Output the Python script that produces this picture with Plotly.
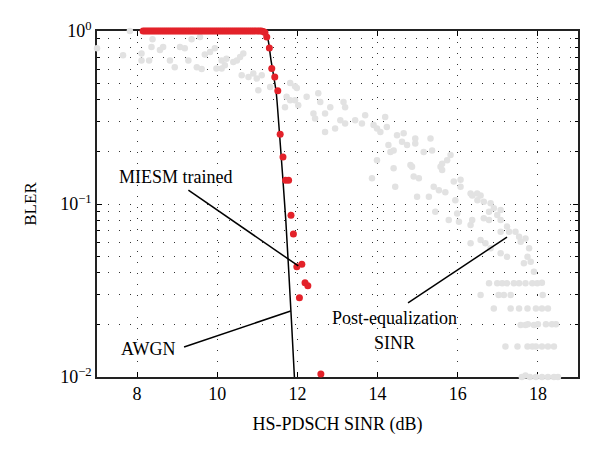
import plotly.graph_objects as go

# ---------------- data ----------------
# Post-equalization SINR cloud (gray)
gray_x = [7.82, 7.0, 7.65, 8.11, 8.36, 8.385, 8.11, 8.3, 8.57, 8.65, 8.82, 8.94, 9.07, 9.19, 9.28,
          9.36, 9.57, 9.49, 9.61, 9.69, 9.82, 9.94, 9.98, 10.11, 10.19, 10.11, 10.23, 10.4, 10.49,
          10.57, 10.65, 10.61, 10.78, 10.9, 10.985, 11.11, 11.025, 11.32, 11.82, 11.94, 11.985,
          11.73, 11.82, 11.94, 11.69, 12.02, 12.23, 12.52, 12.57, 12.4, 12.44, 12.69, 12.82, 13.15,
          13.19, 12.69, 12.94, 13.07, 13.19, 13.44, 13.61, 13.69, 13.9, 13.985,
          14.19, 14.23, 14.07, 14.485, 14.65, 14.61, 14.735, 14.94, 14.94, 15.32, 14.27, 14.32, 14.4,
          13.985, 13.86, 14.4, 14.82, 14.86, 15.15, 15.36, 15.61, 15.735, 15.82, 14.9, 15.03, 15.57,
          15.61, 14.44, 14.985, 15.4, 15.53, 15.69, 15.9, 16.07, 16.07, 16.32, 16.485, 16.57,
          15.28, 15.94, 16.36, 16.49, 16.65, 16.82, 16.9, 17.07, 15.44, 15.775, 15.985, 16.03, 16.32,
          16.36, 16.65, 16.78, 16.78, 16.985, 17.07, 17.07, 17.23, 17.28, 17.44, 17.53, 17.57, 17.69,
          17.78, 17.74, 16.32, 16.57, 16.69, 16.82, 17.07, 17.23,
          16.78, 16.985, 17.11, 17.23, 17.4, 17.53, 17.69, 17.86, 17.985, 18.1,
          16.57, 17.02, 17.15, 17.32, 18.12,
          17.65, 17.82, 17.9,
          16.9, 17.32, 17.53, 17.74, 17.95, 18.1, 18.25,
          17.57, 17.69, 17.9, 17.75, 18.0, 18.2, 18.35, 18.45,
          17.19, 17.49, 17.86, 17.74, 17.95, 18.1, 18.25, 18.4,
          17.6, 17.69, 17.8, 17.95, 18.1, 18.25, 18.4, 18.5]
gray_y = [1.0, 0.794, 0.724, 0.741, 0.809, 0.895, 0.676, 0.676, 0.776, 0.809, 0.676, 0.617, 0.809, 0.794, 0.676,
          0.895, 0.923, 0.617, 0.603, 0.731, 0.757, 0.794, 0.607, 0.607, 0.634, 0.676, 0.692, 0.661, 0.676,
          0.708, 0.741, 0.555, 0.542, 0.568, 0.531, 0.555, 0.455, 0.475, 0.501, 0.479, 0.468,
          0.417, 0.398, 0.398, 0.363, 0.372, 0.417, 0.437, 0.389, 0.333, 0.312, 0.333, 0.363, 0.389,
          0.363, 0.261, 0.273, 0.305, 0.292, 0.305, 0.292, 0.326, 0.286, 0.273,
          0.318, 0.279, 0.261, 0.250, 0.256, 0.229, 0.219, 0.239, 0.224, 0.239, 0.219, 0.200, 0.204,
          0.179, 0.141, 0.161, 0.168, 0.164, 0.200, 0.204, 0.171, 0.179, 0.192, 0.144, 0.141, 0.164,
          0.157, 0.126, 0.110, 0.126, 0.120, 0.117, 0.135, 0.138, 0.126, 0.115, 0.115, 0.112,
          0.110, 0.105, 0.112, 0.105, 0.103, 0.101, 0.0944, 0.0923, 0.0902, 0.0807, 0.0881, 0.0789, 0.0755,
          0.0807, 0.0826, 0.0902, 0.0807, 0.0863, 0.0807, 0.0692, 0.0740, 0.0692, 0.0692, 0.0647, 0.0605, 0.0632,
          0.0555, 0.0495, 0.0593, 0.0619, 0.0593, 0.0555, 0.0519, 0.0495,
          0.0348, 0.0348, 0.0348, 0.0348, 0.0348, 0.0348, 0.0348, 0.0348, 0.0348, 0.0351,
          0.0298, 0.0298, 0.0298, 0.0298, 0.0298,
          0.0454, 0.0463, 0.0406,
          0.0249, 0.0249, 0.0249, 0.0249, 0.0249, 0.0249, 0.0249,
          0.0200, 0.0200, 0.0200, 0.0202, 0.0202, 0.0202, 0.0202, 0.0202,
          0.0150, 0.0150, 0.0150, 0.0150, 0.0150, 0.0150, 0.0150, 0.0150,
          0.0100, 0.0102, 0.0100, 0.0100, 0.0100, 0.0100, 0.0100, 0.0100]

# MIESM trained (red)
red_x = [8.15, 8.20, 8.25, 8.30, 8.35, 8.40, 8.45, 8.50, 8.55, 8.60, 8.65, 8.70, 8.75, 8.80, 8.85,
         8.90, 8.95, 9.00, 9.05, 9.10, 9.15, 9.20, 9.25, 9.30, 9.35, 9.40, 9.45, 9.50, 9.55, 9.60,
         9.65, 9.70, 9.75, 9.80, 9.85, 9.90, 9.95, 10.00, 10.05, 10.10, 10.15, 10.20, 10.25, 10.30,
         10.35, 10.40, 10.45, 10.50, 10.55, 10.60, 10.65, 10.70, 10.75, 10.80, 10.85, 10.90, 10.95,
         11.00, 11.05, 11.10, 11.15, 11.19,
         11.235, 11.30, 11.36, 11.435, 11.51, 11.57, 11.64, 11.705, 11.78, 11.84, 11.90,
         11.985, 12.11, 12.19, 12.26, 12.05, 12.585]
red_y = [1.0, 1.0, 1.0, 1.0, 1.0, 1.0, 1.0, 1.0, 1.0, 1.0, 1.0, 1.0, 1.0, 1.0, 1.0,
         1.0, 1.0, 1.0, 1.0, 1.0, 1.0, 1.0, 1.0, 1.0, 1.0, 1.0, 1.0, 1.0, 1.0, 1.0,
         1.0, 1.0, 1.0, 1.0, 1.0, 1.0, 1.0, 1.0, 1.0, 1.0, 1.0, 1.0, 1.0, 1.0,
         1.0, 1.0, 1.0, 1.0, 1.0, 1.0, 1.0, 1.0, 1.0, 1.0, 1.0, 1.0, 1.0,
         1.0, 1.0, 1.0, 0.995, 0.98,
         0.923, 0.797, 0.607, 0.542, 0.451, 0.253, 0.187, 0.137, 0.137, 0.086, 0.067,
         0.0434, 0.0448, 0.0351, 0.0337, 0.0287, 0.0104]

# AWGN curve (black line)
awgn_x = [11.0, 11.12, 11.19, 11.27, 11.335, 11.47, 11.535, 11.71, 11.85, 11.925]
awgn_y = [1.0, 0.995, 0.97, 0.884, 0.693, 0.444, 0.29, 0.0807, 0.0214, 0.0100]

x_ticks = [8, 10, 12, 14, 16, 18]
y_ticks = [0.01, 0.1, 1]
y_ticktext = ["10<sup>\u22122</sup>", "10<sup>\u22121</sup>", "10<sup>0</sup>"]
y_minor = [0.02, 0.03, 0.04, 0.05, 0.06, 0.07, 0.08, 0.09,
           0.2, 0.3, 0.4, 0.5, 0.6, 0.7, 0.8, 0.9]

FONT = "Liberation Serif"

fig = go.Figure()
fig.add_trace(go.Scatter(x=gray_x, y=gray_y, mode="markers", cliponaxis=False,
                         marker=dict(color="#e2e2e2", size=6.5), showlegend=False))
fig.add_trace(go.Scatter(x=awgn_x, y=awgn_y, mode="lines", line=dict(color="black", width=1.5, shape="spline", smoothing=0.6),
                         showlegend=False))
fig.add_trace(go.Scatter(x=red_x, y=red_y, mode="markers", cliponaxis=False,
                         marker=dict(color="#e3222a", size=7), showlegend=False))

grid_common = dict(showgrid=True, gridcolor="#333", gridwidth=1, griddash="1px,10px")

fig.update_xaxes(range=[7, 19], tickvals=x_ticks, ticks="inside", ticklen=5, tickcolor="black",
                 showline=True, linecolor="#222", linewidth=1.5, mirror="ticks", layer="below traces",
                 automargin=False,
                 title=dict(text="HS-PDSCH SINR (dB)", font=dict(size=18, family=FONT, color="black"), standoff=14),
                 tickfont=dict(size=18, family=FONT, color="black"), zeroline=False, **grid_common)
fig.update_yaxes(type="log", range=[-2, 0], tickvals=y_ticks, ticktext=y_ticktext, ticks="inside", ticklen=5,
                 tickcolor="black", showline=True, linecolor="#222", linewidth=1.5, mirror="ticks",
                 layer="below traces", automargin=False,
                 minor=dict(tickvals=y_minor, ticks="inside", ticklen=3, tickcolor="black",
                            showgrid=True, gridcolor="#333", gridwidth=1, griddash="1px,10px"),
                 title=dict(text="BLER", font=dict(size=17, family=FONT, color="black"), standoff=19),
                 tickfont=dict(size=18, family=FONT, color="black"), zeroline=False, **grid_common)

line_style = dict(color="black", width=1.5)
fig.add_shape(type="line", xref="paper", yref="paper", x0=0.190, y0=0.540, x1=0.4185, y1=0.321, line=line_style)
fig.add_shape(type="line", xref="paper", yref="paper", x0=0.181, y0=0.0867, x1=0.4027, y1=0.1908, line=line_style)
fig.add_shape(type="line", xref="paper", yref="paper", x0=0.6466, y0=0.2139, x1=0.8524, y1=0.4046, line=line_style)

ann_font = dict(size=18, family=FONT, color="black")
for txt, xp, yp in [("MIESM trained", 0.1622, 0.5772), ("AWGN", 0.1067, 0.0801),
                    ("Post-equalization", 0.6195, 0.1697), ("SINR", 0.6195, 0.0974)]:
    fig.add_annotation(text=txt, xref="paper", yref="paper", x=xp, y=yp, xanchor="center", yanchor="middle",
                       showarrow=False, font=ann_font)

# page body has an 8px margin; the figure is sized so the plot area lands where the reference has it
fig.update_layout(width=592, height=446, margin=dict(l=89, r=22, t=23, b=77),
                  paper_bgcolor="white", plot_bgcolor="white", font=dict(family=FONT, color="black"))

fig.write_html("out.html")
